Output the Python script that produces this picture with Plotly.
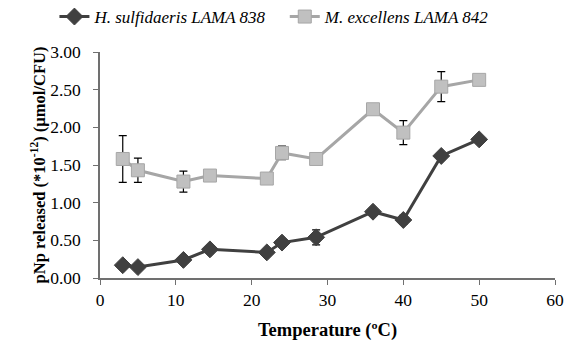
import plotly.graph_objects as go

temperature = [3, 5, 11, 14.5, 22, 24, 28.5, 36, 40, 45, 50]
h_sulf = [0.17, 0.145, 0.24, 0.38, 0.34, 0.47, 0.54, 0.88, 0.77, 1.62, 1.84]
h_sulf_err = [0.02, 0.02, 0.03, 0.05, 0.02, 0.03, 0.10, 0.03, 0.06, 0.03, 0.03]
m_exc = [1.58, 1.43, 1.28, 1.36, 1.32, 1.66, 1.58, 2.24, 1.93, 2.54, 2.63]
m_exc_err = [0.31, 0.16, 0.14, 0.03, 0.07, 0.09, 0.03, 0.03, 0.16, 0.20, 0.03]

x_ticks = [0, 10, 20, 30, 40, 50, 60]
y_ticks = [0, 0.5, 1.0, 1.5, 2.0, 2.5, 3.0]

font = "Liberation Serif"

fig = go.Figure()
fig.add_trace(go.Scatter(
    x=temperature, y=h_sulf, mode="lines+markers",
    name="<i>H. sulfidaeris LAMA 838</i>", legend="legend",
    line=dict(color="#404040", width=3),
    marker=dict(symbol="diamond", size=13, color="#404040", line=dict(color="#404040", width=1)),
    error_y=dict(type="data", array=h_sulf_err, color="black", thickness=1.2, width=4),
))
fig.add_trace(go.Scatter(
    x=temperature, y=m_exc, mode="lines+markers",
    name="<i>M. excellens LAMA 842</i>", legend="legend2",
    line=dict(color="#a6a6a6", width=3),
    marker=dict(symbol="square", size=13, color="#c0c0c0", line=dict(color="#a6a6a6", width=1)),
    error_y=dict(type="data", array=m_exc_err, color="black", thickness=1.2, width=4),
))

tf = dict(family=font, size=17.5, color="black")
leg_common = dict(orientation="h", xref="container", xanchor="left",
                  y=1 - 17 / 343, yref="container", yanchor="middle",
                  font=dict(size=17, family=font), itemwidth=30,
                  bgcolor="rgba(0,0,0,0)")
fig.update_layout(
    width=573, height=343,
    margin=dict(l=100, r=18, t=52, b=65, autoexpand=False),
    paper_bgcolor="white", plot_bgcolor="white",
    font=dict(family=font, size=16, color="black"),
    showlegend=True,
    legend=dict(x=0.095, **leg_common),
    legend2=dict(x=0.497, **leg_common),
    xaxis=dict(range=[0, 60], tickvals=x_ticks, ticktext=[str(v) for v in x_ticks],
               tickfont=tf, automargin=False,
               showgrid=False, zeroline=False, showline=True, linecolor="#707070", linewidth=1.5,
               ticks="outside", ticklen=5, tickcolor="#707070",
               title=dict(text="<b>Temperature (ºC)</b>", font=dict(size=18.5, family=font), standoff=14)),
    yaxis=dict(range=[0, 3], tickvals=y_ticks, ticktext=[f"{v:.2f}" for v in y_ticks],
               tickfont=tf, automargin=False, ticklabelstandoff=9,
               showgrid=False, zeroline=False, showline=True, linecolor="#707070", linewidth=1.5,
               ticks="outside", ticklen=5, tickcolor="#707070",
               title=dict(text="<b>pNp released (*10<sup>-12</sup>) (µmol/CFU)</b>", font=dict(size=16.5, family=font), standoff=0)),
)

fig.write_html("out.html", config={"displayModeBar": False},
               post_script="document.body.style.margin='0';")
